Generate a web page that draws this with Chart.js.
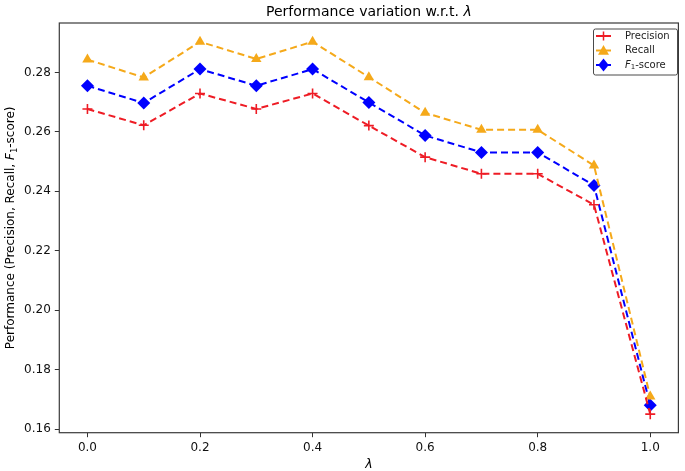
<!DOCTYPE html>
<html>
<head>
<meta charset="utf-8">
<script src="https://cdn.jsdelivr.net/npm/chart.js@4"></script>
<style>
html,body{margin:0;padding:0;background:#fff;}
#wrap{width:685px;height:471px;}
</style>
</head>
<body>
<div id="wrap"><canvas id="c" width="685" height="471"></canvas></div>
<script>
const lambdas = [0.0, 0.1, 0.2, 0.3, 0.4, 0.5, 0.6, 0.7, 0.8, 0.9, 1.0];
const precision = [0.2677, 0.2622, 0.2729, 0.2677, 0.2729, 0.2621, 0.2515, 0.2459, 0.2459, 0.2355, 0.1651];
const recall    = [0.2843, 0.2783, 0.2903, 0.2845, 0.2903, 0.2784, 0.2664, 0.2607, 0.2607, 0.2487, 0.1710];
const f1score   = [0.2755, 0.2697, 0.2811, 0.2755, 0.2811, 0.2699, 0.2588, 0.2531, 0.2531, 0.2420, 0.1681];
const xTicks = [0.0, 0.2, 0.4, 0.6, 0.8, 1.0];
const yTicks = [0.16, 0.18, 0.20, 0.22, 0.24, 0.26, 0.28];
const seriesNames = ['Precision', 'Recall', 'F1-score'];

const FONT = "'DejaVu Sans', sans-serif";
const colors = {p:'#ee1c25', r:'#f5a91a', f:'#0000ff'};

function toPts(arr){ return lambdas.map((x,i)=>({x:x, y:arr[i]})); }

function drawMarker(ctx, style, x, y, color){
  ctx.save();
  ctx.fillStyle = color; ctx.strokeStyle = color; ctx.setLineDash([]);
  if(style==='cross'){
    ctx.lineWidth = 1.5; const s=4.5;
    ctx.beginPath(); ctx.moveTo(x-s,y); ctx.lineTo(x+s,y); ctx.moveTo(x,y-s); ctx.lineTo(x,y+s); ctx.stroke();
  } else if(style==='triangle'){
    const s=5.5;
    ctx.beginPath(); ctx.moveTo(x,y-s); ctx.lineTo(x+s,y+s*0.75); ctx.lineTo(x-s,y+s*0.75); ctx.closePath(); ctx.fill();
  } else {
    const s=6.5;
    ctx.beginPath(); ctx.moveTo(x,y-s); ctx.lineTo(x+s*0.8,y); ctx.lineTo(x,y+s); ctx.lineTo(x-s*0.8,y); ctx.closePath(); ctx.fill();
  }
  ctx.restore();
}

function runsWidth(ctx, runs, size){
  let w=0;
  runs.forEach(r=>{ ctx.font = (r.italic?'italic ':'') + (r.sub?size*0.7:size)+'px '+FONT; w += ctx.measureText(r.t).width; });
  return w;
}
function drawRuns(ctx, runs, x, y, size){
  let cx = x;
  runs.forEach(r=>{
    const s = r.sub?size*0.7:size;
    ctx.font = (r.italic?'italic ':'') + s+'px '+FONT;
    ctx.fillText(r.t, cx, y + (r.sub? size*0.22:0));
    cx += ctx.measureText(r.t).width;
  });
}

const decor = {
  id:'decor',
  afterDraw(chart){
    const ctx = chart.ctx, a = chart.chartArea;
    ctx.save();
    ctx.strokeStyle = '#3a3a3a'; ctx.lineWidth = 1.2; ctx.setLineDash([]);
    ctx.strokeRect(a.left, a.top, a.right-a.left, a.bottom-a.top);
    ctx.fillStyle = '#000'; ctx.textBaseline = 'alphabetic';
    const tRuns = [{t:'Performance variation w.r.t. '},{t:'λ', italic:true}];
    const tw = runsWidth(ctx, tRuns, 14);
    drawRuns(ctx, tRuns, (a.left+a.right)/2 - tw/2, 16, 14);
    const xr = [{t:'λ', italic:true}];
    const xw = runsWidth(ctx, xr, 12.5);
    drawRuns(ctx, xr, (a.left+a.right)/2 - xw/2, 468, 12.5);
    ctx.save();
    ctx.translate(14, (a.top+a.bottom)/2);
    ctx.rotate(-Math.PI/2);
    const yr = [{t:'Performance (Precision, Recall, '},{t:'F', italic:true},{t:'1', sub:true},{t:'-score)'}];
    const yw = runsWidth(ctx, yr, 12);
    drawRuns(ctx, yr, -yw/2, 0, 12);
    ctx.restore();
    const lx = 593.5, ly = 29, lw = 84, lh = 46;
    ctx.fillStyle = 'rgba(255,255,255,0.9)';
    ctx.strokeStyle = '#4a4a4a'; ctx.lineWidth = 1;
    ctx.beginPath();
    if(ctx.roundRect) ctx.roundRect(lx, ly, lw, lh, 2); else ctx.rect(lx,ly,lw,lh);
    ctx.fill(); ctx.stroke();
    const items = [
      {runs:[{t:seriesNames[0]}], color:colors.p, style:'cross', y:36},
      {runs:[{t:seriesNames[1]}], color:colors.r, style:'triangle', y:50.5},
      {runs:[{t:'F', italic:true},{t:'1', sub:true},{t:'-score'}], color:colors.f, style:'rectRot', y:65}
    ];
    items.forEach(it=>{
      ctx.strokeStyle = it.color; ctx.lineWidth = 2;
      ctx.beginPath(); ctx.moveTo(596, it.y); ctx.lineTo(611, it.y); ctx.stroke();
      drawMarker(ctx, it.style, 603.5, it.y, it.color);
      ctx.fillStyle = '#222'; ctx.textBaseline = 'middle';
      drawRuns(ctx, it.runs, 625, it.y, 10);
    });
    ctx.restore();
  }
};

function ds(label, arr, color, style, radius){
  return {
    label: label, data: toPts(arr), borderColor: color, backgroundColor: color,
    borderWidth: 2, borderDash: [7, 4], pointStyle: style, pointRadius: radius,
    pointHoverRadius: radius, pointBorderWidth: style==='cross'?1.6:0, pointBorderColor: color,
    tension: 0, fill: false
  };
}

new Chart(document.getElementById('c'), {
  type: 'line',
  data: {
    datasets: [
      ds(seriesNames[0], precision, colors.p, 'cross', 5),
      ds(seriesNames[1], recall, colors.r, 'triangle', 6),
      ds(seriesNames[2], f1score, colors.f, 'rectRot', 6.5)
    ]
  },
  options: {
    responsive: false, animation: false, devicePixelRatio: 1,
    layout: { padding: { left: 0, right: 6, top: 23, bottom: 0 } },
    plugins: { legend: { display: false }, title: { display: false }, tooltip: { enabled: false } },
    scales: {
      x: {
        type: 'linear', min: -0.05, max: 1.05,
        afterBuildTicks: s => { s.ticks = xTicks.map(v => ({value: v})); },
        afterFit: s => { s.height = 38.3; },
        grid: { drawOnChartArea: false, drawTicks: true, tickLength: 4.5, tickColor: '#333', lineWidth: 1 },
        border: { display: false },
        ticks: { font: { family: FONT, size: 12 }, color: '#111', padding: 3, maxRotation: 0,
                 callback: v => Number(v).toFixed(1) }
      },
      y: {
        type: 'linear', min: 0.15886, max: 0.2966,
        afterBuildTicks: s => { s.ticks = yTicks.map(v => ({value: v})); },
        afterFit: s => { s.width = 59.3; },
        grid: { drawOnChartArea: false, drawTicks: true, tickLength: 4.5, tickColor: '#333', lineWidth: 1 },
        border: { display: false },
        ticks: { font: { family: FONT, size: 12 }, color: '#111', padding: 4,
                 callback: v => Number(v).toFixed(2) }
      }
    }
  },
  plugins: [decor]
});
</script>
</body>
</html>
